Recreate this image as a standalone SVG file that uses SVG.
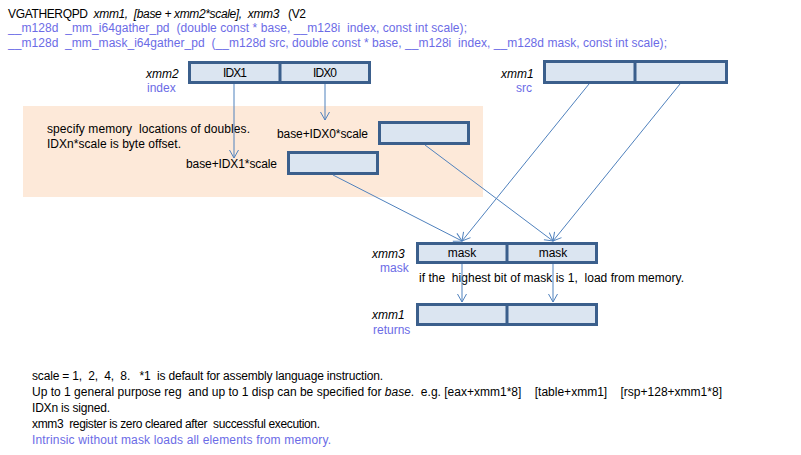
<svg xmlns="http://www.w3.org/2000/svg" width="801" height="455" viewBox="0 0 801 455" xml:space="preserve">
<style>
text { font-family: "Liberation Sans", Arial, sans-serif; font-size: 12px; fill: #000; white-space: pre; }
.p { fill: #6b6be6; }
.i { font-style: italic; }
.box { fill: #dbe5f1; stroke: #3b5f8c; stroke-width: 3; }
.div { stroke: #3b5f8c; stroke-width: 3; }
.c { stroke: #4f81bd; stroke-width: 1; fill: none; marker-end: url(#arr); }
.m { text-anchor: middle; }
</style>
<defs>
<marker id="arr" markerUnits="userSpaceOnUse" markerWidth="14" markerHeight="14" viewBox="-10 -7 12 14" refX="0" refY="0" orient="auto">
<path d="M-8,-4.5 L0,0 L-8,4.5" fill="none" stroke="#4f81bd" stroke-width="1"/>
</marker>
</defs>
<rect width="801" height="455" fill="#fff"/>

<g id="header">
<text x="8" y="18" textLength="298">VGATHERQPD  <tspan class="i">xmm1,  [base + xmm2*scale],  xmm3</tspan>   (V2</text>
<text class="p" x="8" y="32" textLength="459">__m128d  _mm_i64gather_pd  (double const * base, __m128i  index, const int scale);</text>
<text class="p" x="8" y="47" textLength="659">__m128d  _mm_mask_i64gather_pd  (__m128d src, double const * base, __m128i  index, __m128d mask, const int scale);</text>
</g>

<g id="memory-area">
<rect x="23" y="106" width="460" height="91" fill="#fde9d9"/>
<text x="47" y="133" textLength="203">specify memory  locations of doubles.</text>
<text x="47" y="148" textLength="134">IDXn*scale is byte offset.</text>
</g>

<g id="xmm2">
<rect class="box" x="189.5" y="62.5" width="180" height="20"/>
<line class="div" x1="280" y1="62" x2="280" y2="83"/>
<text class="m" x="235" y="77" textLength="24">IDX1</text>
<text class="m" x="325" y="77" textLength="24">IDX0</text>
<text class="i" x="146" y="78">xmm2</text>
<text class="p" x="147" y="92">index</text>
</g>

<g id="xmm1-src">
<rect class="box" x="544.5" y="61.5" width="182" height="21"/>
<line class="div" x1="635" y1="61" x2="635" y2="83"/>
<text class="i" x="501" y="78">xmm1</text>
<text class="p" x="516" y="92">src</text>
</g>

<g id="mem0">
<rect class="box" x="379.5" y="122.5" width="89" height="21"/>
<text x="277" y="138" textLength="91">base+IDX0*scale</text>
</g>

<g id="mem1">
<rect class="box" x="288.5" y="152.5" width="89" height="21"/>
<text x="186" y="168" textLength="91">base+IDX1*scale</text>
</g>

<g id="xmm3-mask">
<rect class="box" x="417.5" y="243.5" width="179" height="19"/>
<line class="div" x1="507" y1="243" x2="507" y2="263"/>
<text class="m" x="462" y="257">mask</text>
<text class="m" x="553" y="257">mask</text>
<text class="i" x="372" y="258">xmm3</text>
<text class="p" x="380" y="272">mask</text>
<text x="419" y="282" textLength="265">if the  highest bit of mask is 1,  load from memory.</text>
</g>

<g id="xmm1-returns">
<rect class="box" x="417.5" y="304.5" width="179" height="20"/>
<line class="div" x1="507" y1="304" x2="507" y2="325"/>
<text class="i" x="372" y="319">xmm1</text>
<text class="p" x="373" y="334">returns</text>
</g>

<g id="connectors">
<line class="c" x1="234" y1="84" x2="234" y2="158"/>
<line class="c" x1="325" y1="84" x2="325" y2="120"/>
<line class="c" x1="333" y1="175" x2="462" y2="241"/>
<line class="c" x1="425" y1="145" x2="553" y2="241"/>
<line class="c" x1="589" y1="84" x2="462" y2="241"/>
<line class="c" x1="680" y1="84" x2="553" y2="241"/>
<line class="c" x1="462" y1="264" x2="462" y2="302"/>
<line class="c" x1="553" y1="264" x2="553" y2="302"/>
</g>

<g id="notes">
<text x="32" y="380" textLength="351">scale = 1,  2,  4,  8.   *1  is default for assembly language instruction.</text>
<text x="32" y="396" textLength="690">Up to 1 general purpose reg  and up to 1 disp can be specified for <tspan class="i">base</tspan>.  e.g. [eax+xmm1*8]    [table+xmm1]    [rsp+128+xmm1*8]</text>
<text x="32" y="412" textLength="78">IDXn is signed.</text>
<text x="32" y="428" textLength="288">xmm3  register is zero cleared after  successful execution.</text>
<text class="p" x="32" y="444" textLength="299">Intrinsic without mask loads all elements from memory.</text>
</g>
</svg>
